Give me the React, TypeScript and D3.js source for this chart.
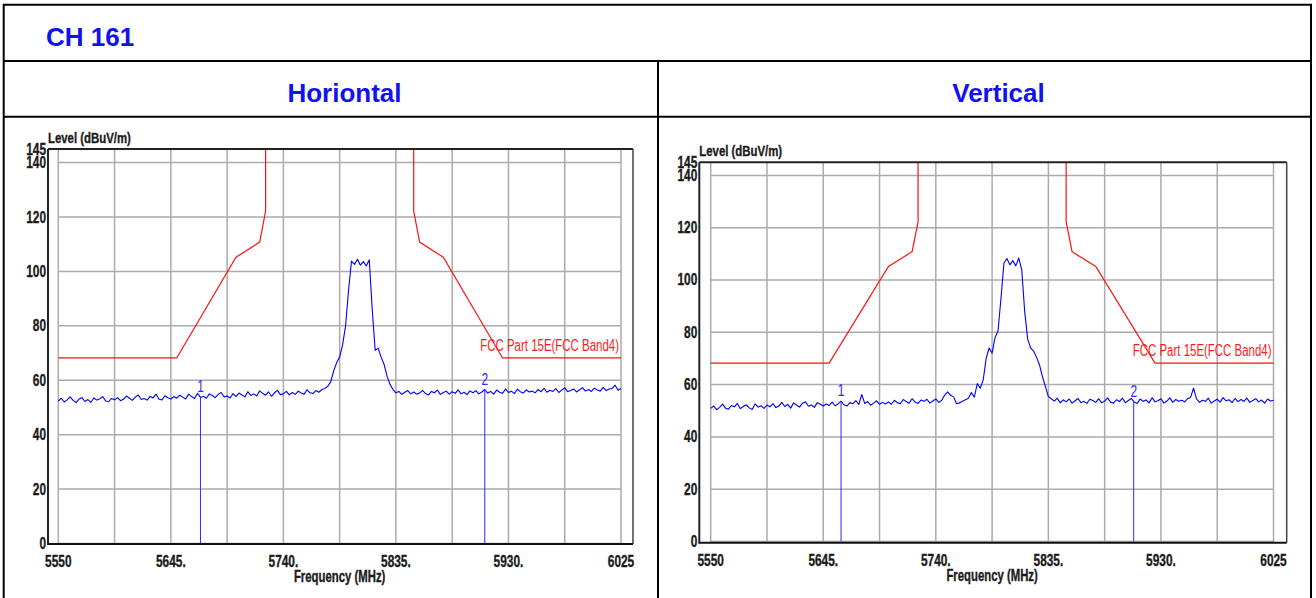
import React from 'react';
import * as d3 from 'd3';

// ---- data ----
const FREQ_START = 5550;
const FREQ_STEP = 2.5;
const FREQ_END = 6025;
const LEVEL_MAX = 145;
const xTickValues = [5550, 5645, 5740, 5835, 5930, 6025];
const xTickLabels = ['5550', '5645.', '5740.', '5835.', '5930.', '6025'];
const xGridValues = [5550, 5597.5, 5645, 5692.5, 5740, 5787.5, 5835, 5882.5, 5930, 5977.5, 6025];
const yTickValues = [0, 20, 40, 60, 80, 100, 120, 140, 145];
const yGridValues = [0, 20, 40, 60, 80, 100, 120, 140];
const limitLow: [number, number][] = [[5550, 68.2], [5650, 68.2], [5700, 105.2], [5720, 110.8], [5725, 122.2], [5725, 145]];
const limitHigh: [number, number][] = [[5850, 145], [5850, 122.2], [5855, 110.8], [5875, 105.2], [5925, 68.2], [6025, 68.2]];
const limitName = 'FCC Part 15E(FCC Band4)';

const hLevels = [
  52.3, 53.4, 52.0, 52.8, 53.9, 52.6, 51.8, 53.1, 53.6, 52.2, 52.9, 51.9, 53.5, 52.7, 53.2, 54.0, 52.4, 52.1, 53.3, 52.8,
  53.6, 52.5, 53.0, 54.2, 53.4, 52.6, 53.8, 54.6, 52.9, 53.3, 52.7, 54.1, 53.5, 54.9, 53.0, 52.8, 54.3, 53.6, 53.1, 54.0,
  53.4, 54.5, 53.8, 53.1, 54.9, 54.0, 53.3, 55.2, 53.7, 54.1, 53.4, 55.0, 54.4, 53.6, 54.8, 55.5, 53.9, 54.2, 53.5, 55.1,
  54.0, 55.3, 54.6, 53.9, 55.8, 54.4, 55.0, 54.2, 56.1, 55.2, 54.5, 55.7, 54.1, 55.4, 56.3, 54.7, 55.0, 55.9, 54.6, 55.5,
  54.8, 56.0, 55.3, 54.9, 56.5, 55.4, 55.1, 56.2, 55.6, 56.6, 57.0, 57.8, 59.5, 63.5, 66.5, 68.5, 73.0, 80.0, 93.0, 103.8,
  102.6, 104.5, 102.3, 103.6, 102.0, 104.3, 86.0, 71.0, 71.8, 68.5, 65.8, 61.5, 58.5, 56.6, 55.4, 55.9, 54.8, 55.6, 56.2, 55.0,
  55.7, 54.9, 55.3, 56.3, 55.1, 54.6, 55.9, 55.4, 56.4, 54.8, 55.5, 56.0, 54.9, 55.8, 55.2, 56.5, 55.0, 55.6, 54.7, 56.1,
  55.4, 56.2, 55.0, 55.7, 56.6, 55.3, 55.9, 54.9, 56.4, 55.6, 55.2, 56.8, 55.5, 56.0, 55.1, 56.7, 55.8, 55.3, 56.5, 55.7,
  56.0, 55.4, 56.6, 55.8, 57.0, 55.6, 56.3, 55.9, 56.9, 55.5, 56.4, 57.2, 55.8, 56.2, 56.8, 55.7, 56.5, 57.3, 56.0, 56.6,
  55.9, 57.1, 56.4, 56.0, 57.4, 56.2, 56.8, 57.0, 58.2, 56.3, 57.0,
];

const vLevels = [
  50.9, 51.8, 50.4, 51.3, 52.5, 51.0, 50.6, 52.0, 51.5, 52.8, 50.8, 51.6, 52.3, 51.1, 50.5, 52.6, 51.4, 51.9, 50.9, 52.2,
  51.5, 52.7, 51.2, 51.8, 53.2, 51.6, 52.4, 51.0, 53.0, 52.1, 51.4, 52.9, 53.4, 51.7, 52.2, 51.3, 53.1, 52.5, 51.8, 52.6,
  52.0, 53.3, 51.9, 52.6, 53.7, 52.3, 51.8, 53.1, 52.7, 53.9, 52.4, 56.2, 52.8, 53.5, 52.1, 52.9, 53.8, 52.5, 53.2, 52.6,
  53.4, 52.5, 54.0, 53.1, 52.7, 54.3, 53.5, 52.9, 54.6, 53.3, 52.8, 54.1, 53.6, 54.4, 52.9, 53.7, 54.5, 53.2, 54.0, 56.0,
  57.2, 55.9, 55.3, 52.7, 53.0, 53.6, 54.2, 54.8, 57.0, 55.2, 60.4, 58.6, 61.8, 70.0, 74.0, 72.0, 78.0, 80.5, 93.0, 106.5,
  108.2, 105.8, 107.4, 105.4, 108.4, 104.0, 88.0, 77.5, 74.0, 72.8, 70.5, 67.5, 63.0, 59.2, 55.4, 54.6, 53.7, 54.8, 53.0, 54.2,
  53.4, 54.5, 52.9, 53.8, 54.7, 53.1, 53.6, 52.8, 54.4, 53.9, 53.2, 54.6, 53.0, 53.7, 54.9, 53.3, 52.9, 54.2, 53.5, 54.8,
  53.1, 53.9, 54.7, 53.3, 52.8, 54.5, 53.6, 54.1, 53.0, 55.0, 53.4, 53.8, 54.6, 52.9, 53.7, 54.9, 53.2, 54.3, 53.6, 54.0,
  53.4, 54.6, 55.1, 58.6, 54.5, 53.2, 54.0, 53.6, 54.8, 52.9, 53.7, 54.4, 53.3, 55.0, 53.8, 54.2, 53.1, 54.7, 53.5, 54.3,
  53.6, 54.8, 53.2, 53.9, 54.6, 53.4, 54.1, 52.9, 54.5, 53.7, 54.0,
];

const hMarkers = [5670, 5910];
const vMarkers = [5660, 5907];

const pageTitle = 'CH 161';
const panelTitles = ['Horiontal', 'Vertical'];
const yAxisTitle = 'Level (dBuV/m)';
const xAxisTitle = 'Frequency (MHz)';

// ---- layout ----
const FONT = "'Liberation Sans', Arial, Helvetica, sans-serif";
const BLUE_TITLE = '#1212EE';

type Frame = { x0: number; x1: number; y0: number; y1: number; pl: number; pr: number; pb: number; pt: number };

function T(props: { x: number; y: number; size: number; sx: number; anchor?: string; weight?: string; fill?: string; children: React.ReactNode }) {
  const { x, y, size, sx, anchor = 'start', weight = 'bold', fill = '#1a1a1a', children } = props;
  return (
    <text
      transform={`translate(${x},${y}) scale(${sx},1)`}
      fontSize={size}
      fontWeight={weight}
      textAnchor={anchor as any}
      fill={fill}
      stroke={weight === 'bold' ? fill : 'none'}
      strokeWidth={weight === 'bold' ? 0.35 : 0}
      fontFamily={FONT}
    >
      {children}
    </text>
  );
}

function Chart({ f, levels, markers }: { f: Frame; levels: number[]; markers: number[] }) {
  const x = d3.scaleLinear().domain([FREQ_START, FREQ_END]).range([f.pl, f.pr]);
  const y = d3.scaleLinear().domain([0, LEVEL_MAX]).range([f.pb, f.pt]);
  const freqs = levels.map((_, i) => FREQ_START + i * FREQ_STEP);
  const trace = d3.line<number>().x((_, i) => x(freqs[i])).y((v) => y(v))(levels) || '';
  const lim = d3.line<[number, number]>().x((d) => x(d[0])).y((d) => y(d[1]));
  const lvlAt = (fr: number) => levels[Math.round((fr - FREQ_START) / FREQ_STEP)];
  return (
    <g>
      {xGridValues.map((g) => (
        <line key={'gx' + g} x1={x(g)} x2={x(g)} y1={f.y0} y2={f.y1} stroke="#ababab" strokeWidth={1.5} />
      ))}
      {yGridValues.map((g) => (
        <line key={'gy' + g} x1={f.pl} x2={f.pr} y1={y(g)} y2={y(g)} stroke="#ababab" strokeWidth={1.5} />
      ))}
      <path d={lim(limitLow) || ''} fill="none" stroke="#ff1010" strokeWidth={1.2} />
      <path d={lim(limitHigh) || ''} fill="none" stroke="#ff1010" strokeWidth={1.2} />
      <T x={f.pr - 2} y={y(68.2) - 7} size={17.3} sx={0.663} anchor="end" weight="normal" fill="#ff1a1a">{limitName}</T>
      <path d={trace} fill="none" stroke="#0000ff" strokeWidth={1.1} strokeLinejoin="round" />
      {markers.map((m, i) => (
        <g key={'m' + m}>
          <line x1={x(m)} x2={x(m)} y1={y(0)} y2={y(lvlAt(m))} stroke="#2a2aff" strokeWidth={1} />
          <T x={x(m)} y={y(lvlAt(m)) - 5} size={17} sx={0.7} anchor="middle" weight="normal" fill="#2a2aff">{String(i + 1)}</T>
        </g>
      ))}
      {/* frame */}
      <line x1={f.x0} x2={f.x1} y1={f.y0} y2={f.y0} stroke="#222" strokeWidth={2} />
      <line x1={f.x1} x2={f.x1} y1={f.y0} y2={f.y1} stroke="#444" strokeWidth={1.5} />
      <line x1={f.x0} x2={f.x0} y1={f.y0} y2={f.y1 + 1} stroke="#222" strokeWidth={2} />
      <line x1={f.x0} x2={f.x1} y1={f.y1} y2={f.y1} stroke="#111" strokeWidth={2} />
      {yTickValues.map((t) => (
        <T key={'yt' + t} x={f.x0 - 2} y={y(t) + 5.5} size={16.8} sx={0.707} anchor="end">{String(t)}</T>
      ))}
      {xTickValues.map((t, i) => (
        <T key={'xt' + t} x={x(t)} y={f.y1 + 23} size={16.8} sx={0.707} anchor="middle">{xTickLabels[i]}</T>
      ))}
      <T x={f.x0} y={f.y0 - 6.5} size={15.4} sx={0.74}>{yAxisTitle}</T>
      <T x={(f.pl + f.pr) / 2} y={f.y1 + 38} size={16} sx={0.71} anchor="middle">{xAxisTitle}</T>
    </g>
  );
}

const frames: Frame[] = [
  { x0: 48, x1: 633, y0: 149, y1: 544, pl: 58.3, pr: 621, pb: 543.5, pt: 149 },
  { x0: 699.3, x1: 1286.7, y0: 162.3, y1: 542.7, pl: 710.7, pr: 1273.5, pb: 541.5, pt: 162.3 },
];

export default function App() {
  return (
    <svg width={1316} height={598} style={{ position: 'absolute', left: 0, top: 0, background: '#fff' }}>
      <rect x={0} y={0} width={1316} height={598} fill="#fff" />
      {/* table */}
      <line x1={3.7} x2={3.7} y1={4} y2={598} stroke="#000" strokeWidth={2} />
      <line x1={1311} x2={1311} y1={4} y2={598} stroke="#000" strokeWidth={2} />
      <line x1={3} x2={1312} y1={4.8} y2={4.8} stroke="#000" strokeWidth={2} />
      <line x1={3} x2={1312} y1={61} y2={61} stroke="#000" strokeWidth={2} />
      <line x1={3} x2={1312} y1={116.7} y2={116.7} stroke="#000" strokeWidth={2} />
      <line x1={658} x2={658} y1={61} y2={598} stroke="#000" strokeWidth={2} />
      <text x={46} y={46} fontSize={26} fontWeight="bold" fill={BLUE_TITLE} fontFamily={FONT}>{pageTitle}</text>
      <text x={344.5} y={101.5} fontSize={26} fontWeight="bold" fill={BLUE_TITLE} fontFamily={FONT} textAnchor="middle">{panelTitles[0]}</text>
      <text x={998.5} y={101.5} fontSize={26} fontWeight="bold" fill={BLUE_TITLE} fontFamily={FONT} textAnchor="middle">{panelTitles[1]}</text>
      <Chart f={frames[0]} levels={hLevels} markers={hMarkers} />
      <Chart f={frames[1]} levels={vLevels} markers={vMarkers} />
    </svg>
  );
}
